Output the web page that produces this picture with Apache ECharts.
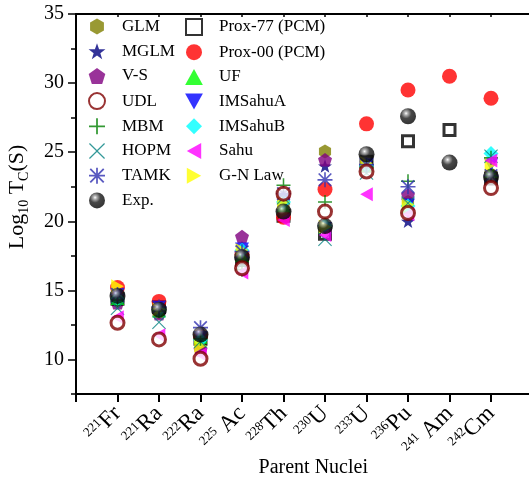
<!DOCTYPE html>
<html>
<head>
<meta charset="utf-8">
<script src="https://cdn.jsdelivr.net/npm/echarts@6/dist/echarts.min.js"></script>
<style>
  html, body { margin: 0; padding: 0; background: #fff; }
  #chart { width: 529px; height: 479px; }
</style>
</head>
<body>
<div id="chart"></div>
<script>
// Parent nuclei (position 1..10 on the x axis)
const massNumbers = ['221', '221', '222', '225', '228', '230', '233', '236', '241', '242'];
const elements    = ['Fr', 'Ra', 'Ra', ' Ac', 'Th', 'U', 'U', 'Pu', ' Am', 'Cm'];

// log10 of the cluster-decay half-life T_C (s) for each model
const glm     = [14.2, 13.4, 11.1, 17.6, 21.2, 25.05, 24.2, 21.4, null, 23.4];
const mglm    = [14.6, 13.7, 11.3, 18.1, 21.8, 24.0, 24.2, 20.0, null, 23.2];
const vs      = [14.1, 13.3, 10.7, 18.9, 21.6, 24.45, 24.0, 21.9, null, 23.1];
const udl     = [12.65, 11.45, 10.05, 16.6, 22.0, 20.7, 23.6, 20.6, null, 22.4];
const mbm     = [14.3, 13.5, 11.5, 16.5, 22.6, 21.4, 23.9, 22.9, null, 24.6];
const hopm    = [13.7, 12.7, 11.3, 16.9, 21.7, 18.7, 23.5, 21.3, null, 24.7];
const tamk    = [14.7, 13.8, 12.3, 17.8, 22.0, 23.0, 24.1, 22.5, null, 23.3];
const expt    = [14.6, 13.6, 11.8, 17.4, 20.7, 19.65, 24.85, 27.6, 24.25, 23.2];
const prox77  = [14.4, 13.8, 11.5, 17.2, 20.4, 19.1, 24.3, 25.8, 26.6, 23.1];
const prox00  = [15.2, 14.2, 11.7, 17.6, 20.3, 22.3, 27.05, 29.5, 30.5, 28.9];
const uf      = [14.4, 13.5, 11.6, 17.5, 21.1, 19.9, 24.0, 21.0, null, 23.6];
const imSahuA = [14.7, 13.8, 11.6, 18.0, 21.6, 19.5, 24.1, 21.2, null, 24.1];
const imSahuB = [14.4, 13.6, 11.4, 17.9, 21.4, 19.7, 24.0, 21.1, null, 24.9];
const sahu    = [13.05, 11.75, 10.35, 16.3, 20.1, 19.0, 21.95, 20.5, null, 24.4];
const gnLaw   = [15.3, 13.6, 11.0, 17.9, 21.4, 19.6, 24.2, 21.2, null, 24.1];

// y-axis tick values
const yMajorTicks = [10, 15, 20, 25, 30, 35];
const yMinorTicks = [7.5, 12.5, 17.5, 22.5, 27.5, 32.5];

const FONT = '"Liberation Serif", "Times New Roman", serif';

// marker shapes
const SYM = {
  hexagon: 'path://M5,0L9.33,2.5L9.33,7.5L5,10L0.67,7.5L0.67,2.5Z',
  star: 'path://M5,0L6.18,3.38L9.76,3.45L6.9,5.62L7.94,9.05L5,7L2.06,9.05L3.1,5.62L0.24,3.45L3.82,3.38Z',
  pentagon: 'path://M5,0L10,3.7L8.1,9.6L1.9,9.6L0,3.7Z',
  plus: 'path://M4.45,0L5.55,0L5.55,4.45L10,4.45L10,5.55L5.55,5.55L5.55,10L4.45,10L4.45,5.55L0,5.55L0,4.45L4.45,4.45Z',
  cross: 'path://M0,0.55L0.55,0L5,4.45L9.45,0L10,0.55L5.55,5L10,9.45L9.45,10L5,5.55L0.55,10L0,9.45L4.45,5Z',
  asterisk: 'path://M4.45,0L5.55,0L5.55,10L4.45,10ZM0,4.45L10,4.45L10,5.55L0,5.55ZM0.4,1.2L1.2,0.4L9.6,8.8L8.8,9.6ZM8.8,0.4L9.6,1.2L1.2,9.6L0.4,8.8Z',
  square: 'path://M0,0L10,0L10,10L0,10Z',
  diamond: 'path://M5,0L10,5L5,10L0,5Z',
  triDown: 'path://M0,0L10,0L5,9Z',
  triUp: 'path://M5,0L10,9L0,9Z',
  triLeft: 'path://M9,0L9,10L0,5Z',
  triRight: 'path://M0,0L9,5L0,10Z'
};

const sphere = {
  type: 'radial', x: 0.38, y: 0.32, r: 0.72,
  colorStops: [
    { offset: 0, color: '#ffffff' },
    { offset: 0.15, color: '#a0a0a0' },
    { offset: 0.45, color: '#1a1a1a' },
    { offset: 1, color: '#000000' }
  ]
};

function pts(values) {
  const out = [];
  values.forEach((v, i) => { if (v !== null) out.push([i + 1, v]); });
  return out;
}

function scatter(name, values, symbol, size, itemStyle, z) {
  return {
    name: name, type: 'scatter', data: pts(values),
    symbol: symbol, symbolSize: size, symbolKeepAspect: true,
    itemStyle: itemStyle, z: z || 2, animation: false
  };
}

const series = [
  scatter('GLM', glm, SYM.hexagon, 14, { color: '#808000' }),
  scatter('MGLM', mglm, SYM.star, 14, { color: '#000080' }),
  scatter('V-S', vs, SYM.pentagon, 14, { color: '#800080' }),
  scatter('Prox-77 (PCM)', prox77, SYM.square, 11, { color: '#ffffff', borderColor: '#000000', borderWidth: 3 }),
  scatter('Prox-00 (PCM)', prox00, 'circle', 15, { color: '#ff0000' }),
  scatter('UF', uf, SYM.triUp, 14, { color: '#00ff00' }),
  scatter('IMSahuA', imSahuA, SYM.triDown, 14, { color: '#0000ff' }),
  scatter('IMSahuB', imSahuB, SYM.diamond, 15, { color: '#00ffff' }),
  scatter('G-N Law', gnLaw, SYM.triRight, 14, { color: '#ffff00' }),
  scatter('MBM', mbm, SYM.plus, 14, { color: '#008000' }),
  scatter('HOPM', hopm, SYM.cross, 14, { color: '#008080' }),
  scatter('TAMK', tamk, SYM.asterisk, 15, { color: '#3030b0' }),
  scatter('Sahu', sahu, SYM.triLeft, 14, { color: '#ff00ff' }),
  scatter('Exp.', expt, 'circle', 16, { color: sphere }, 4),
  scatter('UDL', udl, 'circle', 13, { color: '#ffffff', borderColor: '#800000', borderWidth: 3 }, 5)
];

const legendText = { fontFamily: FONT, fontSize: 17, color: '#000' };

const option = {
  backgroundColor: '#ffffff',
  animation: false,
  grid: { left: 76, top: 14, width: 456.5, height: 380, containLabel: false, outerBoundsMode: 'none' },
  legend: [
    {
      orient: 'vertical', left: 83, top: 13, padding: 5, itemWidth: 40, itemHeight: 16, itemGap: 7.7,
      textStyle: legendText, selectedMode: false,
      data: ['GLM', 'MGLM', 'V-S', 'UDL', 'MBM', 'HOPM', 'TAMK', 'Exp.']
    },
    {
      orient: 'vertical', left: 180, top: 13, padding: 5, itemWidth: 40, itemHeight: 16, itemGap: 7.7,
      textStyle: legendText, selectedMode: false,
      data: ['Prox-77 (PCM)', 'Prox-00 (PCM)', 'UF', 'IMSahuA', 'IMSahuB', 'Sahu', 'G-N Law']
    }
  ],
  xAxis: [
    {
      type: 'value', min: 0, max: 11, interval: 1, position: 'bottom',
      name: 'Parent Nuclei', nameLocation: 'middle', nameGap: 64, nameMoveOverlap: false,
      nameTextStyle: { fontFamily: FONT, fontSize: 20, color: '#000', padding: [0, 0, 0, 18] },
      splitLine: { show: false },
      axisLine: { onZero: false, lineStyle: { color: '#000', width: 2 } },
      axisTick: { inside: false, length: 8, lineStyle: { color: '#000', width: 2 } },
      axisLabel: {
        rotate: 45, margin: 16, color: '#000', fontFamily: FONT,
        formatter: function (v) {
          const i = Math.round(v) - 1;
          if (i < 0 || i >= elements.length) return '';
          return '{sup|' + massNumbers[i] + '}{el|' + elements[i] + '}';
        },
        rich: {
          sup: { fontFamily: FONT, fontSize: 13, color: '#000', padding: [0, 0, 10, 0] },
          el: { fontFamily: FONT, fontSize: 23, color: '#000' }
        }
      }
    },
    {
      type: 'value', min: 0, max: 11, interval: 1, position: 'top',
      splitLine: { show: false },
      axisLine: { onZero: false, lineStyle: { color: '#000', width: 2 } },
      axisTick: { inside: true, length: 3, lineStyle: { color: '#000', width: 1.5 } },
      axisLabel: { show: false }
    }
  ],
  yAxis: [
    {
      type: 'value', min: 7.5, max: 35, interval: 2.5, position: 'left',
      name: '{t|Log}{s|10}{t| T}{s|C}{t|(S)}', nameLocation: 'middle', nameGap: 45, nameRotate: 90,
      nameMoveOverlap: false,
      nameTextStyle: {
        padding: [0, 0, 0, 14],
        rich: {
          t: { fontFamily: FONT, fontSize: 22, color: '#000' },
          s: { fontFamily: FONT, fontSize: 14, color: '#000', padding: [13, 0, 0, 0] }
        }
      },
      splitLine: { show: false },
      axisLine: { onZero: false, lineStyle: { color: '#000', width: 2 } },
      axisTick: { inside: false, length: 8, customValues: yMajorTicks, lineStyle: { color: '#000', width: 1.5 } },
      axisLabel: { customValues: yMajorTicks, margin: 12, fontFamily: FONT, fontSize: 20, color: '#000' }
    },
    {
      type: 'value', min: 7.5, max: 35, interval: 2.5, position: 'left',
      splitLine: { show: false },
      axisLine: { show: false },
      axisTick: { inside: false, length: 5, customValues: yMinorTicks, lineStyle: { color: '#000', width: 1.5 } },
      axisLabel: { show: false }
    }
  ],
  series: series
};

const chart = echarts.init(document.getElementById('chart'), null, { renderer: 'canvas' });
chart.setOption(option);
</script>
</body>
</html>
